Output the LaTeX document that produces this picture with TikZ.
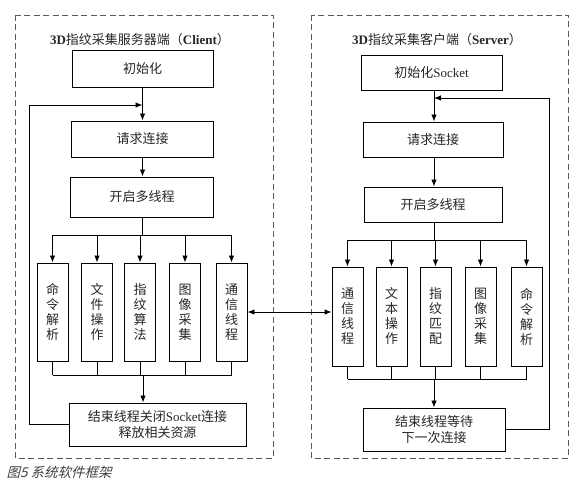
\documentclass[tikz,border=0pt]{standalone}
\usepackage{fontspec}
\setmainfont{Liberation Serif}
\newfontfamily\cjk{Noto Sans CJK SC}
\newfontfamily\capfont[FakeSlant=0.25]{Noto Sans CJK SC}
\usetikzlibrary{arrows.meta,positioning}
\newcommand\zh[1]{{\cjk #1}}

\tikzset{
  block/.style={draw, line width=0.9pt, align=center, inner sep=1pt,
    font=\fontsize{13}{16}\selectfont},
  thread/.style={draw, line width=0.9pt, minimum width=31pt, minimum height=98pt,
    align=center, inner sep=0pt, font=\cjk\fontsize{13}{15}\selectfont},
  groupbox/.style={draw=black!65, dash pattern=on 6pt off 3.5pt, line width=0.9pt},
  link/.style={line width=0.9pt, -{Latex[length=7pt,width=5.5pt]}},
  bus/.style={line width=0.9pt}
}

\begin{document}
\begin{tikzpicture}[x=1pt, y=-1pt, text=black!85]
  \useasboundingbox (0,0) rectangle (576,486);

  % two dashed frames
  \draw[groupbox] (15,15) rectangle (273,458);
  \draw[groupbox] (311,15) rectangle (568,458);

  % left side: Client
  \node[font=\fontsize{13}{16}\selectfont] (ltitle) at (140,40)
    {\textbf{3D}\zh{指纹采集服务器端（}\textbf{Client}\zh{）}};
  \node[block, minimum width=141pt, minimum height=37pt] (linit) at (142.5,68.5) {\zh{初始化}};
  \node[block, minimum width=142pt, minimum height=36pt] (lreq) at (142.5,139) {\zh{请求连接}};
  \node[block, minimum width=143pt, minimum height=40pt] (lstart) at (142,197) {\zh{开启多线程}};
  \foreach \nm/\txt/\x in {lcmd/命\\令\\解\\析/52.5, lfile/文\\件\\操\\作/97,
      lalg/指\\纹\\算\\法/140, limg/图\\像\\采\\集/185, lcomm/通\\信\\线\\程/231.5}
    \node[thread] (\nm) at (\x,312) {\txt};
  \node[block, minimum width=177pt, minimum height=43pt] (lend) at (157.5,424.5)
    {\zh{结束线程关闭}Socket\zh{连接}\\\zh{释放相关资源}};

  \coordinate (lbus) at (142,235);
  \coordinate (lmerge) at (143,375);
  \coordinate (lloop) at (29,105);
  \draw[link] (linit.south) -- (linit.south |- lreq.north);
  \draw[link] (lreq.south) -- (lreq.south |- lstart.north);
  \draw[bus] (lstart.south) -- (lbus);
  \draw[bus] (lcmd.north |- lbus) -- (lcomm.north |- lbus);
  \draw[bus] (lcmd.south |- lmerge) -- (lcomm.south |- lmerge);
  \foreach \nm in {lcmd, lfile, lalg, limg, lcomm} {
    \draw[link] (\nm.north |- lbus) -- (\nm.north);
    \draw[bus] (\nm.south) -- (\nm.south |- lmerge);
  }
  \draw[link] (lmerge) -- (lmerge |- lend.north);
  \draw[link] (lend.west) -| (lloop) -- (lloop -| linit.south);

  % right side: Server
  \node[font=\fontsize{13}{16}\selectfont] (rtitle) at (437,40)
    {\textbf{3D}\zh{指纹采集客户端（}\textbf{Server}\zh{）}};
  \node[block, minimum width=141pt, minimum height=35pt] (rinit) at (431.5,72.5) {\zh{初始化}Socket};
  \node[block, minimum width=140pt, minimum height=35pt] (rreq) at (433,139.5) {\zh{请求连接}};
  \node[block, minimum width=138pt, minimum height=35pt] (rstart) at (433,204.5) {\zh{开启多线程}};
  \foreach \nm/\txt/\x in {rcomm/通\\信\\线\\程/347.5, rfile/文\\本\\操\\作/391.5,
      rmatch/指\\纹\\匹\\配/435.5, rimg/图\\像\\采\\集/480.5, rcmd/命\\令\\解\\析/526.5}
    \node[thread, minimum height=99pt] (\nm) at (\x,316.5) {\txt};
  \node[block, minimum width=142pt, minimum height=43pt] (rend) at (434,429.5)
    {\zh{结束线程等待}\\\zh{下一次连接}};

  \coordinate (rbus) at (434,240);
  \coordinate (rmerge) at (434,379);
  \coordinate (rloop) at (549,98);
  \draw[link] (rinit.south -| rbus) -- (rreq.north -| rbus);
  \draw[link] (rreq.south -| rbus) -- (rstart.north -| rbus);
  \draw[bus] (rstart.south -| rbus) -- (rbus);
  \draw[bus] (rcomm.north |- rbus) -- (rcmd.north |- rbus);
  \draw[bus] (rcomm.south |- rmerge) -- (rcmd.south |- rmerge);
  \foreach \nm in {rcomm, rfile, rmatch, rimg, rcmd} {
    \draw[link] (\nm.north |- rbus) -- (\nm.north);
    \draw[bus] (\nm.south) -- (\nm.south |- rmerge);
  }
  \draw[link] (rmerge) -- (rmerge |- rend.north);
  \draw[link] (rend.east) -| (rloop) -- (rloop -| rbus);

  % link between the two communication threads
  \draw[line width=0.9pt, {Latex[length=7pt,width=5.5pt]}-{Latex[length=7pt,width=5.5pt]}]
    (lcomm.east) -- (lcomm.east -| rcomm.west);

  % caption
  \node[anchor=west, text=black!75, font=\capfont\fontsize{13.5}{16}\selectfont] (caption) at (3,472)
    {图5 系统软件框架};
\end{tikzpicture}
\end{document}
